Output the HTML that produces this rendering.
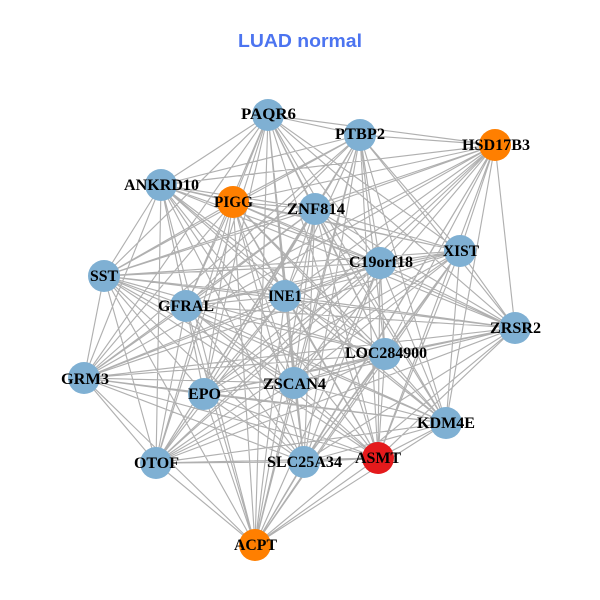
<!DOCTYPE html>
<html><head><meta charset="utf-8"><style>
html,body{margin:0;padding:0;background:#fff}
svg{display:block}
.l{font:bold 16px "Liberation Serif",serif;fill:#000;text-anchor:start}
</style></head><body>
<svg id="s" xmlns="http://www.w3.org/2000/svg" width="600" height="600" viewBox="0 0 600 600">
<rect width="600" height="600" fill="#fff"/>
<path id="e" fill="none" stroke="#b0b0b0" stroke-width="1.15"/>
<g id="n"></g>
<text x="238" y="47" textLength="124" lengthAdjust="spacingAndGlyphs" style="font:bold 18px 'Liberation Sans',sans-serif;fill:#4c74f0">LUAD normal</text>
<g class="t">
<text class="l" x="241" y="119" textLength="55" lengthAdjust="spacingAndGlyphs">PAQR6</text>
<text class="l" x="335" y="139" textLength="50" lengthAdjust="spacingAndGlyphs">PTBP2</text>
<text class="l" x="462" y="150" textLength="68" lengthAdjust="spacingAndGlyphs">HSD17B3</text>
<text class="l" x="124" y="190" textLength="75" lengthAdjust="spacingAndGlyphs">ANKRD10</text>
<text class="l" x="214" y="207" textLength="39" lengthAdjust="spacingAndGlyphs">PIGG</text>
<text class="l" x="287" y="214" textLength="58" lengthAdjust="spacingAndGlyphs">ZNF814</text>
<text class="l" x="443" y="256" textLength="36" lengthAdjust="spacingAndGlyphs">XIST</text>
<text class="l" x="349" y="267" textLength="64" lengthAdjust="spacingAndGlyphs">C19orf18</text>
<text class="l" x="90" y="281" textLength="28" lengthAdjust="spacingAndGlyphs">SST</text>
<text class="l" x="158" y="311" textLength="56" lengthAdjust="spacingAndGlyphs">GFRAL</text>
<text class="l" x="268" y="301" textLength="34" lengthAdjust="spacingAndGlyphs">INE1</text>
<text class="l" x="490" y="333" textLength="51" lengthAdjust="spacingAndGlyphs">ZRSR2</text>
<text class="l" x="345" y="358" textLength="82" lengthAdjust="spacingAndGlyphs">LOC284900</text>
<text class="l" x="61" y="384" textLength="48" lengthAdjust="spacingAndGlyphs">GRM3</text>
<text class="l" x="188" y="399" textLength="33" lengthAdjust="spacingAndGlyphs">EPO</text>
<text class="l" x="263" y="389" textLength="63" lengthAdjust="spacingAndGlyphs">ZSCAN4</text>
<text class="l" x="417" y="428" textLength="58" lengthAdjust="spacingAndGlyphs">KDM4E</text>
<text class="l" x="134" y="468" textLength="45" lengthAdjust="spacingAndGlyphs">OTOF</text>
<text class="l" x="267" y="467" textLength="75" lengthAdjust="spacingAndGlyphs">SLC25A34</text>
<text class="l" x="355" y="463" textLength="46" lengthAdjust="spacingAndGlyphs">ASMT</text>
<text class="l" x="234" y="550" textLength="43" lengthAdjust="spacingAndGlyphs">ACPT</text>
</g>
</svg>
<script>
var N=[[268,115,0],[360,135,0],[495,145,1],[161,185,0],[233,202,1],[315,209,0],[460,251,0],[380,263,0],[104,276,0],[186,306,0],[285,296,0],[515,328,0],[385,354,0],[84,378,0],[204,394,0],[294,383,0],[446,423,0],[156,463,0],[304,462,0],[378,458,2],[255,545,1]];
var C=["#7fb0d3","#ff7f00","#e41a1c"],d="",g="";
var skip={"11-16":1};
for(var i=0;i<N.length;i++){for(var j=i+1;j<N.length;j++){if(skip[i+"-"+j])continue;d+="M"+N[i][0]+" "+N[i][1]+"L"+N[j][0]+" "+N[j][1];}
g+='<circle cx="'+N[i][0]+'" cy="'+N[i][1]+'" r="16" fill="'+C[N[i][2]]+'"/>';}
document.getElementById("e").setAttribute("d",d);
document.getElementById("n").innerHTML=g;
</script>
</body></html>
